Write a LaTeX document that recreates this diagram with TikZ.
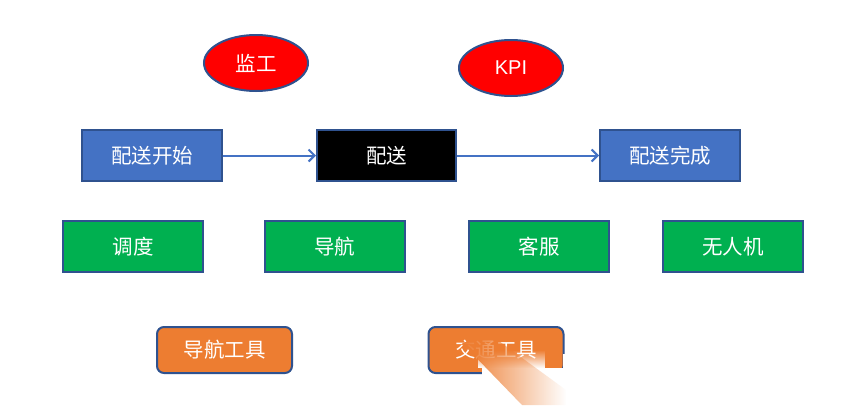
\documentclass[tikz,border=0pt]{standalone}
\usepackage{fontspec}
\newfontfamily\cjk{Noto Sans CJK SC}
\newfontfamily\lat{Liberation Sans}
\usetikzlibrary{shapes.geometric,arrows.meta,fadings}
\definecolor{bfill}{HTML}{4472C4}
\definecolor{bline}{HTML}{2F528F}
\definecolor{gfill}{HTML}{00B050}
\definecolor{ofill}{HTML}{ED7D31}
\definecolor{rfill}{HTML}{FF0000}
\tikzset{
  base/.style={draw=bline, line width=2pt, text=white, font=\cjk\fontsize{20.5}{24}\selectfont, inner sep=0pt},
  bluebox/.style={base, rectangle, fill=bfill, minimum width=140pt, minimum height=51pt},
  blackbox/.style={base, rectangle, fill=black, minimum width=139pt, minimum height=51pt},
  greenbox/.style={base, rectangle, fill=gfill, minimum width=140pt, minimum height=51pt},
  orangebox/.style={base, rectangle, rounded corners=7pt, fill=ofill, minimum width=135pt, minimum height=46pt},
  redell/.style={base, ellipse, fill=rfill, minimum width=104pt, minimum height=56pt},
  flow/.style={draw=bfill, line width=2pt, -{Straight Barb[length=6pt,width=12pt,line width=2pt]}}
}
\begin{document}
\begin{tikzpicture}[x=1pt,y=-1pt]
\useasboundingbox[fill=white] (0,0) rectangle (846,405);
\node[redell] (jg) at (256,63) {监工};
\node[redell, font=\lat\fontsize{20}{24}\selectfont] (kpi) at (511,68) {KPI};
\node[bluebox] (start) at (152,155.5) {配送开始};
\node[blackbox] (ps) at (386.5,155.5) {配送};
\node[bluebox] (done) at (670,155.5) {配送完成};
\draw[flow] (start) -- (ps);
\draw[flow] (ps) -- (done);
\node[greenbox] (dd) at (133,246.5) {调度};
\node[greenbox] (dh) at (334.5,246.5) {导航};
\node[greenbox] (kf) at (539,246.5) {客服};
\node[greenbox] (wrj) at (733,246.5) {无人机};
\node[orangebox] (dhgj) at (224.5,350) {导航工具};
\node[orangebox] (jtgj) at (496,350) {交通工具};
% brush-stroke artefact over the second tool box
\fill[white] (482,368) rectangle (576,378);
\fill[white] (563,354) rectangle (576,378);
\fill[white, path fading=north] (478,350) rectangle (545,368);
\fill[ofill, path fading=east] (462,343) -- (492,336) -- (566,390) -- (566,405) -- (522,405) -- cycle;
\end{tikzpicture}
\end{document}
